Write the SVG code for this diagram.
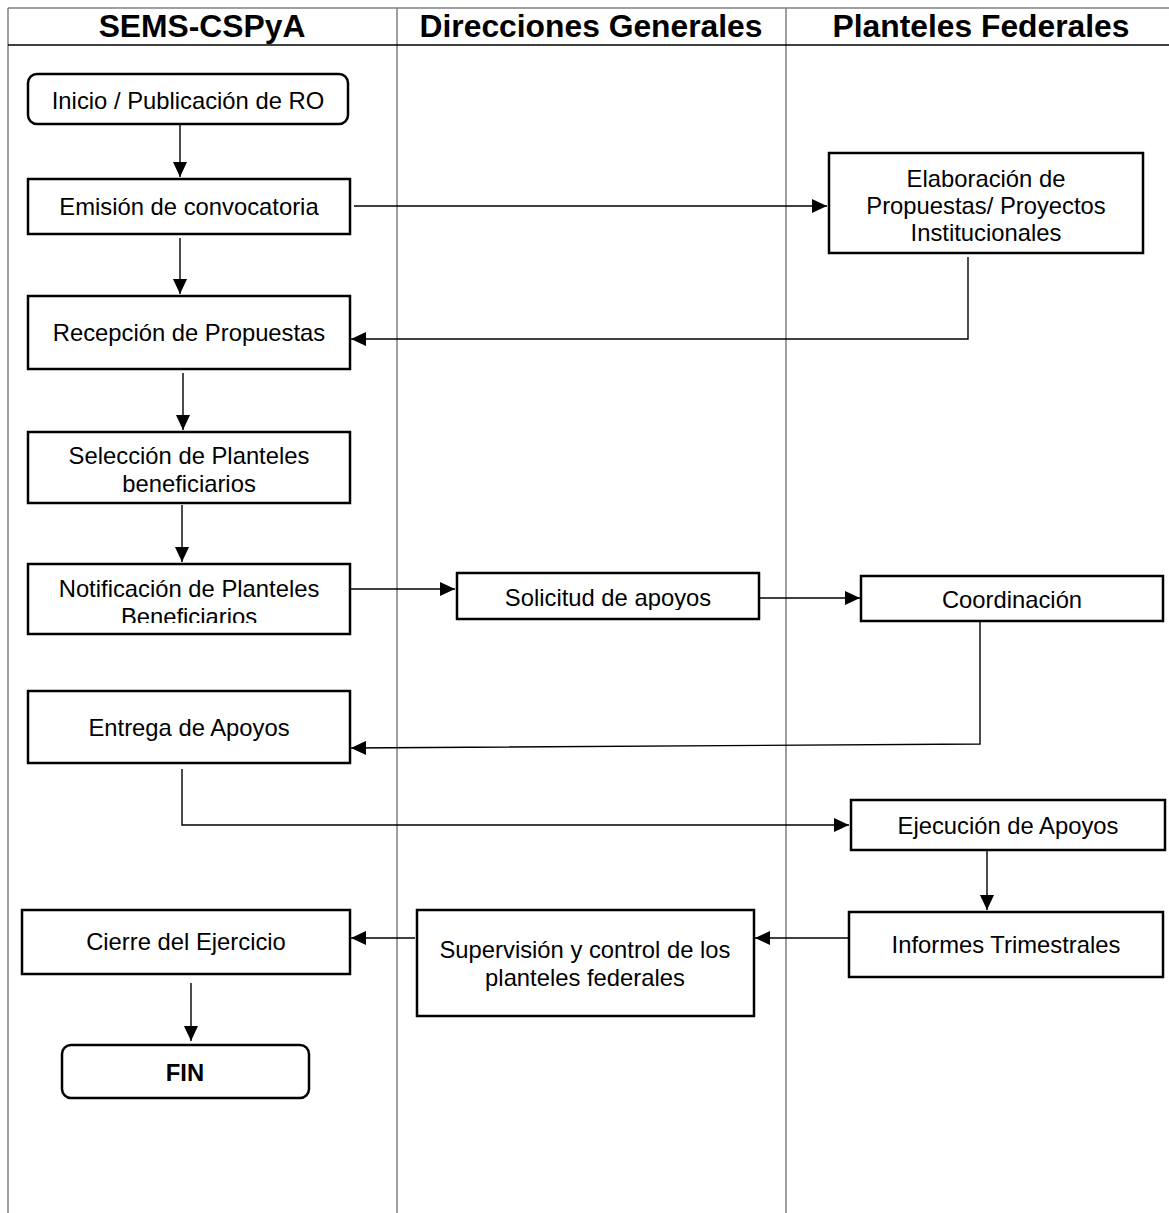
<svg xmlns="http://www.w3.org/2000/svg" width="1169" height="1213" viewBox="0 0 1169 1213">
<style>
.lane{stroke:#808080;stroke-width:1.5;fill:none}
.box{fill:#fff;stroke:#000;stroke-width:2.5}
.t{font-family:"Liberation Sans",Arial,sans-serif;font-size:23.8px;fill:#000;text-anchor:middle}
.h{font-family:"Liberation Sans",Arial,sans-serif;font-size:31.8px;font-weight:bold;fill:#000;text-anchor:middle}
.c{stroke:#000;stroke-width:1.4;fill:none;marker-end:url(#a)}
</style>
<defs>
<marker id="a" viewBox="0 0 15 14" refX="15" refY="7" markerWidth="15" markerHeight="14" markerUnits="userSpaceOnUse" orient="auto">
<path d="M0,0 L15,7 L0,14 Z" fill="#000"/>
</marker>
<clipPath id="clipN"><rect x="28" y="564" width="322" height="59"/></clipPath>
<clipPath id="clipS"><rect x="457" y="573" width="302" height="37"/></clipPath>
</defs>
<g id="lanes">
<line class="lane" x1="8" y1="8" x2="1169" y2="8"/>
<line class="lane" x1="8" y1="8" x2="8" y2="1213"/>
<line class="lane" x1="397" y1="8" x2="397" y2="1213"/>
<line class="lane" x1="786" y1="8" x2="786" y2="1213"/>
<line x1="8" y1="45" x2="1169" y2="45" stroke="#000" stroke-width="1.5"/>
<text class="h" x="202" y="37">SEMS-CSPyA</text>
<text class="h" x="591" y="37">Direcciones Generales</text>
<text class="h" x="981" y="37">Planteles Federales</text>
</g>
<g id="connectors">
<path class="c" d="M180,124 V177"/>
<path class="c" d="M354,206 H827"/>
<path class="c" d="M180,238 V294"/>
<path class="c" d="M968,257 V339 H351"/>
<path class="c" d="M183,373 V430"/>
<path class="c" d="M182,505 V562"/>
<path class="c" d="M350,589 H455"/>
<path class="c" d="M759,598 H860"/>
<path class="c" d="M980,621 V744 L351,748"/>
<path class="c" d="M182,769 V825 H849"/>
<path class="c" d="M987,850 V910"/>
<path class="c" d="M849,938 H755"/>
<path class="c" d="M415,938 H351"/>
<path class="c" d="M191,983 V1041"/>
</g>
<g id="inicio"><rect class="box" x="28" y="74" width="320" height="50" rx="9"/><text class="t" x="188" y="109">Inicio / Publicación de RO</text></g>
<g id="emision"><rect class="box" x="28" y="179" width="322" height="55"/><text class="t" x="189" y="215">Emisión de convocatoria</text></g>
<g id="elaboracion"><rect class="box" x="829" y="153" width="314" height="100"/><text class="t" x="986" y="187">Elaboración de</text><text class="t" x="986" y="214">Propuestas/ Proyectos</text><text class="t" x="986" y="241">Institucionales</text></g>
<g id="recepcion"><rect class="box" x="28" y="296" width="322" height="73"/><text class="t" x="189" y="341">Recepción de Propuestas</text></g>
<g id="seleccion"><rect class="box" x="28" y="432" width="322" height="71"/><text class="t" x="189" y="464">Selección de Planteles</text><text class="t" x="189" y="492">beneficiarios</text></g>
<g id="notificacion"><rect class="box" x="28" y="564" width="322" height="70"/><g clip-path="url(#clipN)"><text class="t" x="189" y="597">Notificación de Planteles</text><text class="t" x="189" y="625">Beneficiarios</text></g></g>
<g id="solicitud"><rect class="box" x="457" y="573" width="302" height="46"/><g clip-path="url(#clipS)"><text class="t" x="608" y="606">Solicitud de apoyos</text></g></g>
<g id="coordinacion"><rect class="box" x="861" y="576" width="302" height="45"/><text class="t" x="1012" y="608">Coordinación</text></g>
<g id="entrega"><rect class="box" x="28" y="691" width="322" height="72"/><text class="t" x="189" y="736">Entrega de Apoyos</text></g>
<g id="ejecucion"><rect class="box" x="851" y="800" width="314" height="50"/><text class="t" x="1008" y="834">Ejecución de Apoyos</text></g>
<g id="informes"><rect class="box" x="849" y="912" width="314" height="65"/><text class="t" x="1006" y="953">Informes Trimestrales</text></g>
<g id="supervision"><rect class="box" x="417" y="910" width="337" height="106"/><text class="t" x="585" y="958">Supervisión y control de los</text><text class="t" x="585" y="986">planteles federales</text></g>
<g id="cierre"><rect class="box" x="22" y="910" width="328" height="64"/><text class="t" x="186" y="950">Cierre del Ejercicio</text></g>
<g id="fin"><rect class="box" x="62" y="1045" width="247" height="53" rx="9"/><text class="t" x="185" y="1081" font-weight="bold">FIN</text></g>
</svg>
